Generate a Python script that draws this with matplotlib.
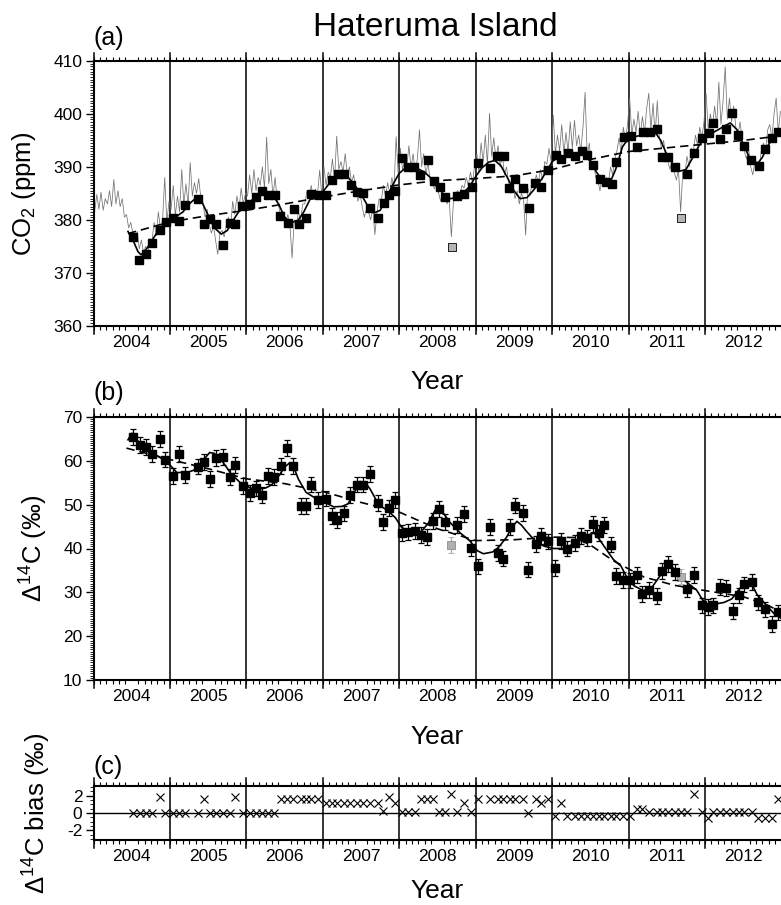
import numpy as np
import matplotlib
matplotlib.use("Agg")
import matplotlib.pyplot as plt
from matplotlib.ticker import MultipleLocator, FixedLocator

plt.rcParams['font.family'] = ['Liberation Sans', 'DejaVu Sans']
plt.rcParams['mathtext.fontset'] = 'custom'
plt.rcParams['mathtext.rm'] = 'Liberation Sans'
plt.rcParams['mathtext.it'] = 'Liberation Sans:italic'
plt.rcParams['mathtext.bf'] = 'Liberation Sans:bold'
plt.rcParams['mathtext.default'] = 'regular'
plt.rcParams['axes.unicode_minus'] = False

# ---------------- data ----------------
year_labels = ['2004', '2005', '2006', '2007', '2008', '2009', '2010', '2011', '2012']

# continuous CO2 record (about every 10 days, 36 values per year, starting 2004)
co2_cont_2004 = [381.5, 384.8, 382.0, 385.2, 381.8, 384.0, 383.0, 385.5, 382.5, 387.6, 383.0, 385.5,
                 382.5, 384.0, 380.5, 381.0, 378.5, 379.5, 377.5, 376.0, 377.8, 374.5, 376.2, 373.8,
                 375.0, 373.5, 376.5, 376.0, 379.5, 377.0, 381.5, 378.2, 380.0, 388.0, 379.5, 383.5]
co2_cont_2005 = [382.0, 386.5, 380.8, 384.5, 381.5, 389.5, 383.0, 386.8, 382.8, 390.8, 384.5, 387.0,
                 385.0, 387.8, 384.2, 383.0, 380.5, 382.0, 379.0, 377.5, 378.8, 376.0, 373.5, 377.5,
                 378.0, 376.8, 379.0, 380.5, 378.5, 383.5, 381.0, 384.5, 382.0, 386.0, 383.0, 385.0]
co2_cont_2006 = [384.5, 388.5, 385.0, 389.5, 385.5, 388.0, 386.5, 390.0, 386.0, 395.6, 386.8, 389.5,
                 384.5, 388.0, 383.5, 382.0, 380.0, 381.5, 379.5, 381.0, 378.8, 372.8, 380.0, 379.0,
                 381.5, 380.0, 383.0, 383.0, 385.5, 384.0, 386.5, 384.0, 385.8, 385.0, 389.4, 384.5]
co2_cont_2007 = [390.0, 386.5, 389.0, 388.0, 391.5, 387.5, 395.8, 389.5, 391.0, 389.0, 392.5, 388.5,
                 390.0, 387.0, 388.5, 385.5, 383.5, 385.0, 382.5, 380.5, 382.0, 381.5, 380.0, 382.0,
                 377.2, 381.5, 384.0, 383.5, 386.5, 384.5, 387.0, 385.0, 388.0, 386.0, 395.7, 388.5]
co2_cont_2008 = [393.5, 389.5, 391.0, 390.0, 394.0, 389.8, 392.5, 389.0, 391.5, 397.0, 390.0, 392.5,
                 388.5, 390.8, 387.5, 387.5, 385.8, 387.0, 385.0, 383.5, 384.8, 384.5, 383.0, 384.0,
                 376.8, 383.5, 385.0, 385.5, 384.5, 386.5, 386.0, 388.0, 386.5, 389.0, 387.0, 390.5]
co2_cont_2009 = [392.5, 389.0, 394.5, 391.0, 396.0, 390.5, 400.1, 392.0, 395.5, 391.5, 394.0, 390.0,
                 392.5, 388.5, 390.0, 387.0, 385.0, 386.5, 384.0, 385.5, 383.0, 385.0, 384.0, 377.1,
                 386.0, 384.5, 387.0, 386.0, 388.5, 387.0, 389.5, 387.5, 391.0, 390.5, 393.5, 391.0]
co2_cont_2010 = [399.8, 392.5, 396.0, 393.0, 398.0, 392.5, 396.5, 392.8, 398.5, 393.5, 398.8, 394.0,
                 396.0, 393.0, 397.5, 404.1, 392.0, 394.5, 389.5, 391.0, 388.0, 387.5, 385.5, 388.0,
                 386.5, 388.0, 387.0, 390.0, 388.5, 391.5, 393.0, 395.5, 392.5, 397.5, 395.0, 398.0]
co2_cont_2011 = [403.0, 396.0, 399.0, 396.5, 400.5, 396.0, 399.5, 396.5, 401.0, 403.9, 397.0, 402.0,
                 396.0, 402.5, 395.5, 393.5, 395.0, 392.0, 391.0, 389.5, 391.5, 389.0, 387.5, 389.5,
                 381.5, 389.0, 388.5, 392.0, 390.0, 393.5, 393.0, 396.0, 394.0, 397.5, 395.5, 398.5]
co2_cont_2012 = [403.9, 397.0, 400.0, 397.5, 401.5, 398.0, 406.0, 398.0, 402.5, 408.9, 399.0, 403.0,
                 398.5, 401.5, 397.5, 396.0, 398.5, 395.0, 393.0, 391.5, 393.5, 390.0, 388.5, 391.0,
                 391.0, 390.0, 393.0, 394.5, 393.0, 397.0, 398.0, 395.5, 400.0, 403.0, 396.5, 400.5]
co2_cont_start = 2004.0
co2_cont_per_year = 36

# flask CO2 (monthly)
flask_t = [2004.52, 2004.60, 2004.69, 2004.77, 2004.87, 2004.95, 2005.04, 2005.12, 2005.20, 2005.36,
           2005.44, 2005.52, 2005.60, 2005.69, 2005.78, 2005.85, 2005.94, 2006.04, 2006.12, 2006.20,
           2006.28, 2006.37, 2006.44, 2006.54, 2006.62, 2006.69, 2006.78, 2006.85, 2006.95, 2007.04,
           2007.12, 2007.20, 2007.28, 2007.37, 2007.44, 2007.52, 2007.62, 2007.72, 2007.80, 2007.87,
           2007.95, 2008.03, 2008.12, 2008.19, 2008.27, 2008.37, 2008.45, 2008.53, 2008.60, 2008.76,
           2008.85, 2008.95, 2009.03, 2009.19, 2009.28, 2009.37, 2009.44, 2009.52, 2009.62, 2009.70,
           2009.78, 2009.86, 2009.95, 2010.05, 2010.11, 2010.21, 2010.30, 2010.39, 2010.46, 2010.53,
           2010.62, 2010.70, 2010.78, 2010.84, 2010.94, 2011.03, 2011.11, 2011.19, 2011.28, 2011.37,
           2011.44, 2011.52, 2011.61, 2011.77, 2011.86, 2011.96, 2012.05, 2012.11, 2012.19, 2012.28,
           2012.35, 2012.43, 2012.51, 2012.60, 2012.70, 2012.78, 2012.87, 2012.96]
flask_co2 = [376.8, 372.5, 373.6, 375.7, 378.1, 379.6, 380.4, 379.8, 382.8, 384.0,
             379.2, 380.1, 379.2, 375.2, 379.4, 379.3, 382.6, 383.0, 384.3, 385.5,
             384.7, 384.7, 380.8, 379.4, 382.0, 379.2, 380.4, 384.9, 384.7, 384.6,
             387.5, 388.6, 388.6, 386.6, 385.3, 385.0, 382.2, 380.3, 383.2, 384.7,
             385.4, 391.6, 389.9, 389.9, 388.4, 391.3, 387.3, 386.2, 384.3, 384.5,
             384.9, 386.2, 390.7, 389.7, 392.0, 392.0, 386.0, 387.8, 386.0, 382.2,
             387.0, 386.2, 389.5, 392.2, 391.5, 392.6, 392.0, 393.0, 392.2, 390.3,
             387.8, 387.2, 386.7, 391.0, 395.7, 395.9, 393.7, 396.6, 396.6, 397.1,
             391.9, 391.8, 390.0, 388.6, 392.7, 395.4, 396.4, 398.2, 395.2, 397.1,
             400.2, 396.0, 393.9, 391.3, 390.1, 393.3, 395.5, 396.6]
flask_out_t = [2008.69, 2011.69]
flask_out_co2 = [374.8, 380.3]

# CO2 smooth fit
co2_fit_t = [2004.45, 2004.52, 2004.58, 2004.62, 2004.67, 2004.75, 2004.83, 2004.92,
             2005.00, 2005.08, 2005.17, 2005.25, 2005.33, 2005.38, 2005.42, 2005.50, 2005.58, 2005.67, 2005.75, 2005.83, 2005.92,
             2006.00, 2006.08, 2006.17, 2006.25, 2006.33, 2006.42, 2006.50, 2006.58, 2006.67, 2006.75, 2006.83, 2006.92,
             2007.00, 2007.08, 2007.17, 2007.25, 2007.33, 2007.42, 2007.50, 2007.58, 2007.67, 2007.75, 2007.83, 2007.92,
             2008.00, 2008.08, 2008.17, 2008.25, 2008.33, 2008.42, 2008.50, 2008.58, 2008.67, 2008.75, 2008.83, 2008.92,
             2009.00, 2009.08, 2009.17, 2009.25, 2009.33, 2009.42, 2009.50, 2009.58, 2009.67, 2009.75, 2009.83, 2009.92,
             2010.00, 2010.08, 2010.17, 2010.25, 2010.33, 2010.42, 2010.50, 2010.58, 2010.67, 2010.75, 2010.83, 2010.92,
             2011.00, 2011.08, 2011.17, 2011.25, 2011.33, 2011.42, 2011.50, 2011.58, 2011.67, 2011.75, 2011.83, 2011.92,
             2012.00, 2012.08, 2012.17, 2012.25, 2012.33, 2012.42, 2012.50, 2012.58, 2012.67, 2012.75, 2012.83, 2012.92, 2013.00]
co2_fit = [377.8, 376.0, 374.0, 373.4, 374.0, 375.8, 377.6, 379.2,
           380.2, 380.6, 381.5, 383.0, 384.0, 384.2, 383.3, 380.8, 378.5, 377.3, 378.0, 380.0, 382.0,
           383.0, 383.8, 384.8, 385.3, 385.0, 383.0, 380.5, 379.5, 379.8, 381.5, 383.8, 384.8,
           385.3, 386.8, 388.2, 388.7, 388.0, 386.5, 384.8, 382.8, 381.3, 381.8, 384.0, 386.8,
           388.8, 389.8, 390.0, 389.6, 389.0, 387.8, 386.3, 384.8, 384.0, 384.2, 385.0, 386.3,
           388.2, 389.8, 390.9, 391.2, 390.2, 387.8, 385.5, 384.0, 384.2, 385.5, 387.0, 389.0,
           391.0, 391.8, 392.2, 392.4, 392.5, 392.4, 391.2, 389.0, 387.2, 386.8, 389.5, 393.8,
           395.4, 395.7, 396.0, 396.5, 396.9, 395.0, 392.3, 390.5, 389.2, 389.5, 391.5, 394.0,
           395.5, 396.3, 397.0, 397.7, 398.3, 397.0, 394.3, 391.8, 390.3, 391.8, 394.2, 396.0, 396.8]

# CO2 long-term trend
co2_trend_t = [2004.45, 2005.0, 2005.5, 2006.0, 2006.5, 2007.0, 2007.5, 2008.0, 2008.5,
               2009.0, 2009.5, 2010.0, 2010.5, 2011.0, 2011.5, 2012.0, 2012.5, 2013.0]
co2_trend = [377.4, 379.6, 380.8, 381.8, 383.0, 384.3, 385.5, 386.6, 387.4,
             387.8, 388.3, 389.5, 391.4, 392.9, 393.6, 394.3, 395.0, 395.9]

# Delta14C
d14c_t = [2004.52, 2004.61, 2004.69, 2004.77, 2004.87, 2004.94, 2005.04, 2005.12, 2005.20, 2005.37,
          2005.44, 2005.52, 2005.60, 2005.69, 2005.78, 2005.85, 2005.95, 2006.05, 2006.13, 2006.20,
          2006.28, 2006.36, 2006.45, 2006.53, 2006.61, 2006.71, 2006.78, 2006.84, 2006.94, 2007.04,
          2007.12, 2007.19, 2007.27, 2007.36, 2007.44, 2007.52, 2007.62, 2007.72, 2007.79, 2007.87,
          2007.95, 2008.04, 2008.12, 2008.20, 2008.28, 2008.36, 2008.44, 2008.52, 2008.60, 2008.76,
          2008.84, 2008.94, 2009.03, 2009.19, 2009.29, 2009.36, 2009.45, 2009.51, 2009.62, 2009.69,
          2009.79, 2009.86, 2009.95, 2010.04, 2010.12, 2010.20, 2010.30, 2010.38, 2010.45, 2010.53,
          2010.61, 2010.68, 2010.77, 2010.84, 2010.93, 2011.02, 2011.11, 2011.18, 2011.27, 2011.37,
          2011.44, 2011.51, 2011.61, 2011.76, 2011.86, 2011.96, 2012.04, 2012.11, 2012.20, 2012.28,
          2012.36, 2012.44, 2012.51, 2012.61, 2012.69, 2012.78, 2012.87, 2012.96]
d14c = [65.5, 63.6, 63.1, 61.6, 64.9, 60.3, 56.5, 61.6, 56.8, 58.7,
        59.8, 55.9, 60.6, 60.9, 56.4, 59.0, 54.3, 52.6, 53.7, 52.2,
        56.6, 56.4, 58.8, 62.9, 58.8, 49.7, 49.7, 54.6, 51.1, 51.4,
        47.4, 46.5, 48.0, 52.2, 54.6, 54.6, 57.0, 50.4, 46.1, 49.2,
        51.1, 43.5, 43.7, 44.0, 43.1, 42.7, 46.2, 49.1, 46.1, 45.4,
        47.9, 40.1, 35.9, 44.9, 38.9, 37.7, 44.9, 49.8, 48.1, 35.2,
        41.0, 42.8, 41.6, 35.5, 41.8, 40.0, 41.3, 42.8, 42.4, 45.6,
        43.5, 45.4, 40.9, 33.7, 32.8, 32.7, 34.0, 29.6, 30.6, 29.2,
        34.9, 36.4, 34.7, 30.8, 34.0, 27.0, 26.6, 27.0, 31.3, 31.0,
        25.8, 29.3, 31.8, 32.4, 27.7, 26.1, 22.8, 25.4]
d14c_err = 1.8
d14c_out_t = [2008.67, 2011.69]
d14c_out = [40.8, 33.6]

d14c_fit_t = [2004.45, 2004.50, 2004.58, 2004.75, 2004.96, 2005.09, 2005.25, 2005.35, 2005.45, 2005.52,
              2005.58, 2005.68, 2005.80, 2005.92, 2006.05, 2006.15, 2006.25, 2006.33, 2006.42, 2006.50,
              2006.57, 2006.62, 2006.68, 2006.78, 2006.90, 2007.00, 2007.14, 2007.25, 2007.33, 2007.40,
              2007.47, 2007.55, 2007.62, 2007.73, 2007.85, 2007.95, 2008.03, 2008.15, 2008.27, 2008.38,
              2008.47, 2008.51, 2008.58, 2008.66, 2008.80, 2008.92, 2009.02, 2009.10, 2009.22, 2009.30,
              2009.40, 2009.48, 2009.54, 2009.60, 2009.67, 2009.80, 2009.90, 2010.02, 2010.15, 2010.25,
              2010.35, 2010.45, 2010.55, 2010.62, 2010.70, 2010.80, 2010.90, 2010.98, 2011.07, 2011.19,
              2011.30, 2011.40, 2011.48, 2011.56, 2011.65, 2011.76, 2011.89, 2011.96, 2012.02, 2012.12,
              2012.25, 2012.35, 2012.45, 2012.55, 2012.60, 2012.68, 2012.78, 2012.90, 2013.00]
d14c_fit = [64.8, 66.3, 64.5, 62.0, 59.8, 57.3, 57.5, 58.1, 60.5, 61.9,
            61.7, 60.0, 57.0, 55.0, 53.8, 53.5, 53.8, 54.5, 56.5, 58.6,
            59.6, 58.5, 55.8, 52.8, 51.5, 50.8, 49.5, 49.6, 50.2, 52.5,
            54.6, 55.2, 53.5, 50.0, 48.6, 47.0, 44.8, 43.8, 43.5, 45.8,
            48.8, 49.3, 48.0, 46.0, 43.5, 41.8, 39.5, 38.8, 39.2, 40.3,
            42.5, 45.0, 46.2, 45.3, 43.8, 41.3, 40.5, 40.0, 40.0, 40.8,
            42.0, 43.0, 43.5, 42.0, 40.0, 37.5, 36.0, 33.3, 31.5, 30.4,
            31.0, 33.5, 35.5, 35.9, 34.5, 32.3, 30.5, 28.5, 27.2, 27.3,
            27.7, 28.5, 30.8, 32.3, 32.3, 29.5, 27.5, 25.2, 24.0]

d14c_trend_t = [2004.43, 2005.0, 2005.5, 2006.0, 2006.5, 2007.0, 2007.5, 2008.0, 2008.5, 2009.0,
                2009.5, 2010.0, 2010.3, 2010.5, 2010.8, 2011.2, 2011.6, 2012.0, 2012.5, 2012.8, 2013.0]
d14c_trend = [62.9, 60.3, 58.2, 55.9, 54.8, 53.0, 50.5, 48.3, 44.5, 41.8,
              42.0, 42.6, 42.5, 40.8, 37.2, 33.5, 31.6, 30.4, 29.0, 27.2, 25.5]

# Delta14C bias
bias_t = [2004.52, 2004.61, 2004.69, 2004.77, 2004.87, 2004.94, 2005.04, 2005.12, 2005.20, 2005.37,
          2005.44, 2005.52, 2005.60, 2005.69, 2005.78, 2005.85, 2005.95, 2006.05, 2006.13, 2006.20,
          2006.28, 2006.36, 2006.45, 2006.53, 2006.61, 2006.71, 2006.78, 2006.84, 2006.94, 2007.04,
          2007.12, 2007.19, 2007.27, 2007.36, 2007.44, 2007.52, 2007.62, 2007.72, 2007.79, 2007.87,
          2007.95, 2008.04, 2008.12, 2008.20, 2008.28, 2008.36, 2008.44, 2008.52, 2008.60, 2008.67,
          2008.76, 2008.84, 2008.94, 2009.03, 2009.19, 2009.29, 2009.36, 2009.45, 2009.51, 2009.62,
          2009.69, 2009.79, 2009.86, 2009.95, 2010.04, 2010.12, 2010.20, 2010.30, 2010.38, 2010.45,
          2010.53, 2010.61, 2010.68, 2010.77, 2010.84, 2010.93, 2011.02, 2011.11, 2011.18, 2011.27,
          2011.37, 2011.44, 2011.51, 2011.61, 2011.69, 2011.76, 2011.86, 2011.96, 2012.04, 2012.11,
          2012.20, 2012.28, 2012.36, 2012.44, 2012.51, 2012.61, 2012.69, 2012.78, 2012.87, 2012.96]
bias = [0.0, 0.0, 0.0, 0.0, 1.8, 0.0, 0.0, 0.0, 0.0, 0.0,
        1.6, 0.0, 0.0, 0.0, 0.0, 1.8, 0.0, 0.0, 0.0, 0.0,
        0.0, 0.0, 1.6, 1.6, 1.6, 1.6, 1.6, 1.6, 1.6, 1.1,
        1.1, 1.1, 1.1, 1.1, 1.1, 1.1, 1.1, 1.1, 0.2, 1.8,
        1.1, 0.1, 0.1, 0.1, 1.6, 1.6, 1.6, 0.1, 0.1, 2.2,
        0.15, 1.1, 0.15, 1.6, 1.6, 1.6, 1.6, 1.6, 1.6, 1.6,
        0.0, 1.6, 1.1, 1.6, -0.3, 1.1, -0.3, -0.3, -0.3, -0.3,
        -0.3, -0.3, -0.3, -0.3, -0.3, -0.3, -0.3, 0.5, 0.5, 0.1,
        0.1, 0.1, 0.1, 0.1, 0.1, 0.1, 2.2, 0.1, -0.6, 0.1,
        0.1, 0.1, 0.1, 0.1, 0.1, 0.1, -0.6, -0.6, -0.6, 1.6]

# ---------------- figure ----------------
W, H = 781, 905
fig = plt.figure(figsize=(W / 100, H / 100), dpi=100)
X0 = 93.6
XW = 9 * 76.43


def add_ax(top, bottom):
    return fig.add_axes([X0 / W, 1 - bottom / H, XW / W, (bottom - top) / H])


def style(ax, ylim, ymaj, ymin, hpx):
    ax.set_xlim(2004, 2013)
    ax.set_ylim(*ylim)
    ax.xaxis.set_major_locator(FixedLocator([int(s) + 0.5 for s in year_labels]))
    ax.set_xticklabels(year_labels)
    ax.xaxis.set_minor_locator(FixedLocator(np.arange(2004, 2013.001, 1 / 12)))
    ax.tick_params(axis='x', which='major', length=0, pad=6.5, labelsize=12.5)
    ax.tick_params(axis='x', which='minor', direction='out', length=3, width=0.8,
                   top=True, bottom=True)
    ax.yaxis.set_major_locator(MultipleLocator(ymaj))
    ax.yaxis.set_minor_locator(MultipleLocator(ymin))
    ax.tick_params(axis='y', which='major', direction='out', length=6, width=1.0,
                   labelsize=12.5, pad=2)
    ax.tick_params(axis='y', which='minor', direction='out', length=3, width=0.6)
    ax.spines['right'].set_visible(False)
    for s in ['top', 'bottom', 'left']:
        ax.spines[s].set_linewidth(1.5)
    ext = 8.0 / hpx
    for lab in year_labels:
        ax.axvline(int(lab), ymin=-ext, ymax=1 + ext, color='k', lw=1.1,
                   clip_on=False, zorder=1)


axa = add_ax(61, 325.7)
axb = add_ax(417, 680)
axc = add_ax(786, 840)
style(axa, (360, 410), 10, 0.5, 264.7)
style(axb, (10, 70), 10, 0.5, 263)
style(axc, (-3.1, 3.1), 2, 0.5, 54)

# ---- panel (a)
co2_cont = (co2_cont_2004 + co2_cont_2005 + co2_cont_2006 + co2_cont_2007 + co2_cont_2008
            + co2_cont_2009 + co2_cont_2010 + co2_cont_2011 + co2_cont_2012)
co2_cont_t = co2_cont_start + (np.arange(len(co2_cont)) + 0.5) / co2_cont_per_year
axa.plot(co2_cont_t, co2_cont, color='0.45', lw=0.55, zorder=2)
axa.plot(co2_trend_t, co2_trend, color='k', lw=1.2, dashes=(5, 3), zorder=3)
axa.plot(co2_fit_t, co2_fit, color='k', lw=1.2, zorder=3)
axa.plot(flask_t, flask_co2, 's', color='k', ms=5.8, zorder=4)
axa.plot(flask_out_t, flask_out_co2, 's', mfc='#b4b4b4', mec='k', mew=0.6, ms=5.8, zorder=4)
axa.set_ylabel('CO$_2$ (ppm)', fontsize=18.5, va='center')
axa.yaxis.set_label_coords((24 - X0) / XW, 0.5)
axa.set_xlabel('Year', fontsize=19, va='center')
axa.xaxis.set_label_coords(0.5, (325.7 - 382) / 264.7)
axa.text(0.0, 1 + (61 - 38) / 264.7, '(a)', transform=axa.transAxes, fontsize=18,
         ha='left', va='center')

# ---- panel (b)
axb.plot(d14c_trend_t, d14c_trend, color='k', lw=1.2, dashes=(5, 3), zorder=3)
axb.plot(d14c_fit_t, d14c_fit, color='k', lw=1.2, zorder=3)
axb.errorbar(d14c_out_t, d14c_out, yerr=d14c_err, fmt='s', ms=6, mfc='#b0b0b0',
             mec='#8c8c8c', mew=0.6, ecolor='#a8a8a8', elinewidth=0.9, capsize=2.5,
             capthick=0.9, zorder=4)
axb.errorbar(d14c_t, d14c, yerr=d14c_err, fmt='s', ms=6, color='k', elinewidth=0.9,
             capsize=2.5, capthick=0.9, zorder=5)
axb.set_ylabel('Δ$^{14}$C (‰)', fontsize=18.5, va='center')
axb.yaxis.set_label_coords((34 - X0) / XW, 0.5)
axb.set_xlabel('Year', fontsize=19, va='center')
axb.xaxis.set_label_coords(0.5, (680 - 737) / 263)
axb.text(0.0, 1 + (417 - 393) / 263, '(b)', transform=axb.transAxes, fontsize=18,
         ha='left', va='center')

# ---- panel (c)
axc.axhline(0, color='k', lw=1.0, zorder=2)
axc.plot(bias_t, bias, 'x', color='k', ms=6, mew=0.8, zorder=3)
axc.set_ylabel('Δ$^{14}$C bias (‰)', fontsize=18.5, va='center')
axc.yaxis.set_label_coords((37 - X0) / XW, 0.5)
axc.set_xlabel('Year', fontsize=19, va='center')
axc.xaxis.set_label_coords(0.5, (840 - 891) / 54)
axc.text(0.0, 1 + (786 - 767) / 54, '(c)', transform=axc.transAxes, fontsize=18,
         ha='left', va='center')

fig.text(435 / W, 1 - 28 / H, 'Hateruma Island', fontsize=24, ha='center', va='center')

fig.savefig('out.png', dpi=100)
